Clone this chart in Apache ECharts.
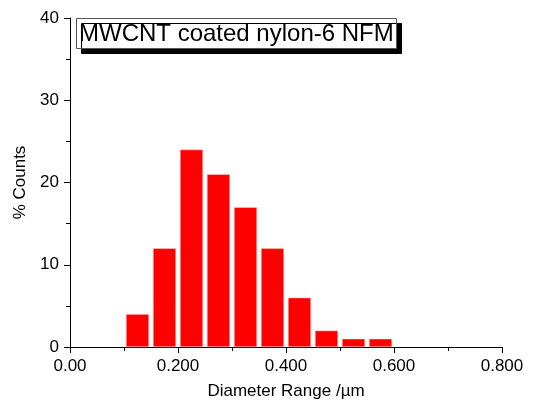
<!DOCTYPE html>
<html>
<head>
<meta charset="utf-8">
<script src="https://cdn.jsdelivr.net/npm/echarts@6/dist/echarts.min.js"></script>
<style>
  html, body { margin: 0; padding: 0; background: #fff; }
  #chart { width: 533px; height: 405px; }
</style>
</head>
<body>
<div id="chart"></div>
<script>
// bin centres (µm) and % counts
const binCenters = [0.125, 0.175, 0.225, 0.275, 0.325, 0.375, 0.425, 0.475, 0.525, 0.575]
const counts = [4, 12, 24, 21, 17, 12, 6, 2, 1, 1]
const xTickLabels = { 0: "0.00", 0.2: "0.200", 0.4: "0.400", 0.6: "0.600", 0.8: "0.800" }

const font = "Liberation Sans, Arial, sans-serif"
const chart = echarts.init(document.getElementById("chart"))

chart.setOption({
    animation: false,
    title: {
        text: "MWCNT coated nylon-6 NFM",
        left: 76,
        top: 18,
        padding: [4, 3, 2, 3],
        backgroundColor: "#fff",
        borderColor: "#555",
        borderWidth: 1,
        shadowColor: "#000",
        shadowBlur: 0,
        shadowOffsetX: 5,
        shadowOffsetY: 5,
        textStyle: { fontFamily: font, fontSize: 24, fontWeight: "normal", color: "#000", lineHeight: 25 }
    },
    grid: { left: 70, right: 31, top: 18, bottom: 58 },
    xAxis: {
        type: "value",
        min: 0,
        max: 0.8,
        interval: 0.2,
        name: "Diameter Range /\u00b5m",
        nameLocation: "middle",
        nameGap: 36,
        nameTextStyle: { fontFamily: font, fontSize: 17, color: "#000" },
        axisLine: { onZero: false, lineStyle: { color: "#000", width: 1 } },
        axisTick: { show: true, length: 6, lineStyle: { color: "#000" } },
        minorTick: { show: true, splitNumber: 2, length: 4, lineStyle: { color: "#000" } },
        splitLine: { show: false },
        axisLabel: {
            fontFamily: font, fontSize: 17, color: "#000", margin: 11,
            formatter: v => xTickLabels[Math.round(v * 10) / 10] ?? ""
        }
    },
    yAxis: {
        type: "value",
        min: 0,
        max: 40,
        interval: 10,
        name: "% Counts",
        nameLocation: "middle",
        nameGap: 33,
        nameTextStyle: { fontFamily: font, fontSize: 17, color: "#000" },
        axisLine: { show: true, lineStyle: { color: "#000", width: 1 } },
        axisTick: { show: true, length: 6, lineStyle: { color: "#000" } },
        minorTick: { show: true, splitNumber: 2, length: 4, lineStyle: { color: "#000" } },
        splitLine: { show: false },
        axisLabel: { fontFamily: font, fontSize: 17, color: "#000", margin: 11 }
    },
    series: [{
        type: "bar",
        data: binCenters.map((x, i) => [x, counts[i]]),
        barWidth: 23,
        itemStyle: { color: "#ff0000", borderColor: "#ffd0d0", borderWidth: 0.5 }
    }]
})
</script>
</body>
</html>
